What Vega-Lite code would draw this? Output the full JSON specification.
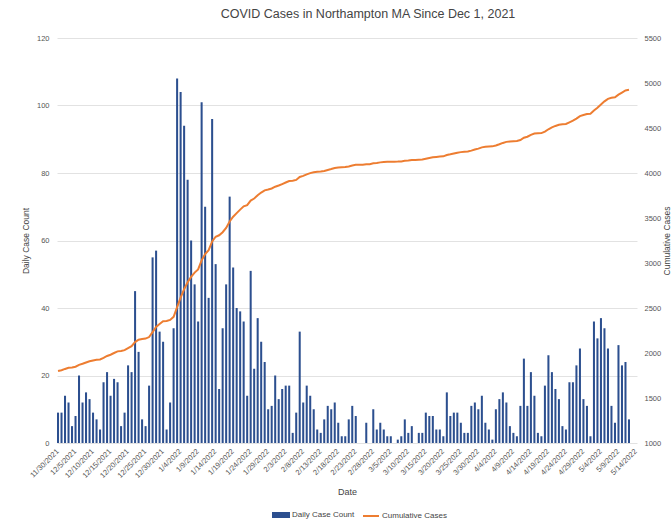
{
  "$schema": "https://vega.github.io/schema/vega-lite/v6.json",
  "width": 580,
  "height": 405,
  "autosize": {"type": "none"},
  "padding": {"left": 57, "top": 38, "right": 35, "bottom": 87},
  "background": "white",
  "title": {"text": "COVID Cases in Northampton MA Since Dec 1, 2021", "fontSize": 12.5, "font": "Liberation Sans", "fontWeight": "normal", "color": "#444444", "offset": 14, "dx": 21, "anchor": "middle"},
  "config": {
    "view": {"stroke": null},
    "font": "Liberation Sans",
    "axis": {"labelFont": "Liberation Sans", "titleFont": "Liberation Sans", "labelColor": "#555555", "titleColor": "#444444", "titleFontWeight": "normal", "domain": false, "ticks": false}
  },
  "data": {"values": [
    {"date": "11/30/2021", "daily": 9, "cum": 1800},
    {"date": "12/1/2021", "daily": 9, "cum": 1809},
    {"date": "12/2/2021", "daily": 14, "cum": 1823},
    {"date": "12/3/2021", "daily": 12, "cum": 1835},
    {"date": "12/4/2021", "daily": 5, "cum": 1840},
    {"date": "12/5/2021", "daily": 8, "cum": 1848},
    {"date": "12/6/2021", "daily": 20, "cum": 1868},
    {"date": "12/7/2021", "daily": 12, "cum": 1880},
    {"date": "12/8/2021", "daily": 15, "cum": 1895},
    {"date": "12/9/2021", "daily": 13, "cum": 1908},
    {"date": "12/10/2021", "daily": 9, "cum": 1917},
    {"date": "12/11/2021", "daily": 7, "cum": 1924},
    {"date": "12/12/2021", "daily": 4, "cum": 1928},
    {"date": "12/13/2021", "daily": 18, "cum": 1946},
    {"date": "12/14/2021", "daily": 21, "cum": 1967},
    {"date": "12/15/2021", "daily": 14, "cum": 1981},
    {"date": "12/16/2021", "daily": 19, "cum": 2000},
    {"date": "12/17/2021", "daily": 18, "cum": 2018},
    {"date": "12/18/2021", "daily": 5, "cum": 2023},
    {"date": "12/19/2021", "daily": 9, "cum": 2032},
    {"date": "12/20/2021", "daily": 23, "cum": 2055},
    {"date": "12/21/2021", "daily": 21, "cum": 2076},
    {"date": "12/22/2021", "daily": 45, "cum": 2121},
    {"date": "12/23/2021", "daily": 27, "cum": 2148},
    {"date": "12/24/2021", "daily": 7, "cum": 2155},
    {"date": "12/25/2021", "daily": 5, "cum": 2160},
    {"date": "12/26/2021", "daily": 17, "cum": 2177},
    {"date": "12/27/2021", "daily": 55, "cum": 2232},
    {"date": "12/28/2021", "daily": 57, "cum": 2289},
    {"date": "12/29/2021", "daily": 33, "cum": 2322},
    {"date": "12/30/2021", "daily": 30, "cum": 2352},
    {"date": "12/31/2021", "daily": 4, "cum": 2356},
    {"date": "1/1/2022", "daily": 12, "cum": 2368},
    {"date": "1/2/2022", "daily": 34, "cum": 2402},
    {"date": "1/3/2022", "daily": 108, "cum": 2510},
    {"date": "1/4/2022", "daily": 104, "cum": 2614},
    {"date": "1/5/2022", "daily": 94, "cum": 2708},
    {"date": "1/6/2022", "daily": 78, "cum": 2786},
    {"date": "1/7/2022", "daily": 60, "cum": 2846},
    {"date": "1/8/2022", "daily": 47, "cum": 2893},
    {"date": "1/9/2022", "daily": 36, "cum": 2929},
    {"date": "1/10/2022", "daily": 101, "cum": 3030},
    {"date": "1/11/2022", "daily": 70, "cum": 3100},
    {"date": "1/12/2022", "daily": 43, "cum": 3143},
    {"date": "1/13/2022", "daily": 96, "cum": 3239},
    {"date": "1/14/2022", "daily": 53, "cum": 3292},
    {"date": "1/15/2022", "daily": 16, "cum": 3308},
    {"date": "1/16/2022", "daily": 34, "cum": 3342},
    {"date": "1/17/2022", "daily": 47, "cum": 3389},
    {"date": "1/18/2022", "daily": 73, "cum": 3462},
    {"date": "1/19/2022", "daily": 52, "cum": 3514},
    {"date": "1/20/2022", "daily": 40, "cum": 3554},
    {"date": "1/21/2022", "daily": 39, "cum": 3593},
    {"date": "1/22/2022", "daily": 36, "cum": 3629},
    {"date": "1/23/2022", "daily": 14, "cum": 3643},
    {"date": "1/24/2022", "daily": 51, "cum": 3694},
    {"date": "1/25/2022", "daily": 22, "cum": 3716},
    {"date": "1/26/2022", "daily": 37, "cum": 3753},
    {"date": "1/27/2022", "daily": 30, "cum": 3783},
    {"date": "1/28/2022", "daily": 24, "cum": 3807},
    {"date": "1/29/2022", "daily": 10, "cum": 3817},
    {"date": "1/30/2022", "daily": 11, "cum": 3828},
    {"date": "1/31/2022", "daily": 20, "cum": 3848},
    {"date": "2/1/2022", "daily": 13, "cum": 3861},
    {"date": "2/2/2022", "daily": 16, "cum": 3877},
    {"date": "2/3/2022", "daily": 17, "cum": 3894},
    {"date": "2/4/2022", "daily": 17, "cum": 3911},
    {"date": "2/5/2022", "daily": 3, "cum": 3914},
    {"date": "2/6/2022", "daily": 9, "cum": 3923},
    {"date": "2/7/2022", "daily": 33, "cum": 3956},
    {"date": "2/8/2022", "daily": 12, "cum": 3968},
    {"date": "2/9/2022", "daily": 17, "cum": 3985},
    {"date": "2/10/2022", "daily": 14, "cum": 3999},
    {"date": "2/11/2022", "daily": 10, "cum": 4009},
    {"date": "2/12/2022", "daily": 4, "cum": 4013},
    {"date": "2/13/2022", "daily": 3, "cum": 4016},
    {"date": "2/14/2022", "daily": 7, "cum": 4023},
    {"date": "2/15/2022", "daily": 11, "cum": 4034},
    {"date": "2/16/2022", "daily": 10, "cum": 4044},
    {"date": "2/17/2022", "daily": 12, "cum": 4056},
    {"date": "2/18/2022", "daily": 6, "cum": 4062},
    {"date": "2/19/2022", "daily": 2, "cum": 4064},
    {"date": "2/20/2022", "daily": 2, "cum": 4066},
    {"date": "2/21/2022", "daily": 7, "cum": 4073},
    {"date": "2/22/2022", "daily": 11, "cum": 4084},
    {"date": "2/23/2022", "daily": 8, "cum": 4092},
    {"date": "2/24/2022", "daily": 0, "cum": 4092},
    {"date": "2/25/2022", "daily": 0, "cum": 4092},
    {"date": "2/26/2022", "daily": 6, "cum": 4098},
    {"date": "2/27/2022", "daily": 0, "cum": 4098},
    {"date": "2/28/2022", "daily": 10, "cum": 4108},
    {"date": "3/1/2022", "daily": 4, "cum": 4112},
    {"date": "3/2/2022", "daily": 6, "cum": 4118},
    {"date": "3/3/2022", "daily": 4, "cum": 4122},
    {"date": "3/4/2022", "daily": 2, "cum": 4124},
    {"date": "3/5/2022", "daily": 2, "cum": 4126},
    {"date": "3/6/2022", "daily": 0, "cum": 4126},
    {"date": "3/7/2022", "daily": 1, "cum": 4127},
    {"date": "3/8/2022", "daily": 2, "cum": 4129},
    {"date": "3/9/2022", "daily": 7, "cum": 4136},
    {"date": "3/10/2022", "daily": 3, "cum": 4139},
    {"date": "3/11/2022", "daily": 5, "cum": 4144},
    {"date": "3/12/2022", "daily": 0, "cum": 4144},
    {"date": "3/13/2022", "daily": 3, "cum": 4147},
    {"date": "3/14/2022", "daily": 3, "cum": 4150},
    {"date": "3/15/2022", "daily": 9, "cum": 4159},
    {"date": "3/16/2022", "daily": 8, "cum": 4167},
    {"date": "3/17/2022", "daily": 8, "cum": 4175},
    {"date": "3/18/2022", "daily": 4, "cum": 4179},
    {"date": "3/19/2022", "daily": 4, "cum": 4183},
    {"date": "3/20/2022", "daily": 2, "cum": 4185},
    {"date": "3/21/2022", "daily": 15, "cum": 4200},
    {"date": "3/22/2022", "daily": 8, "cum": 4208},
    {"date": "3/23/2022", "daily": 9, "cum": 4217},
    {"date": "3/24/2022", "daily": 9, "cum": 4226},
    {"date": "3/25/2022", "daily": 6, "cum": 4232},
    {"date": "3/26/2022", "daily": 3, "cum": 4235},
    {"date": "3/27/2022", "daily": 3, "cum": 4238},
    {"date": "3/28/2022", "daily": 11, "cum": 4249},
    {"date": "3/29/2022", "daily": 12, "cum": 4261},
    {"date": "3/30/2022", "daily": 10, "cum": 4271},
    {"date": "3/31/2022", "daily": 14, "cum": 4285},
    {"date": "4/1/2022", "daily": 6, "cum": 4291},
    {"date": "4/2/2022", "daily": 4, "cum": 4295},
    {"date": "4/3/2022", "daily": 1, "cum": 4296},
    {"date": "4/4/2022", "daily": 10, "cum": 4306},
    {"date": "4/5/2022", "daily": 13, "cum": 4319},
    {"date": "4/6/2022", "daily": 15, "cum": 4334},
    {"date": "4/7/2022", "daily": 12, "cum": 4346},
    {"date": "4/8/2022", "daily": 5, "cum": 4351},
    {"date": "4/9/2022", "daily": 3, "cum": 4354},
    {"date": "4/10/2022", "daily": 2, "cum": 4356},
    {"date": "4/11/2022", "daily": 11, "cum": 4367},
    {"date": "4/12/2022", "daily": 25, "cum": 4392},
    {"date": "4/13/2022", "daily": 11, "cum": 4403},
    {"date": "4/14/2022", "daily": 21, "cum": 4424},
    {"date": "4/15/2022", "daily": 14, "cum": 4438},
    {"date": "4/16/2022", "daily": 3, "cum": 4441},
    {"date": "4/17/2022", "daily": 2, "cum": 4443},
    {"date": "4/18/2022", "daily": 17, "cum": 4460},
    {"date": "4/19/2022", "daily": 26, "cum": 4486},
    {"date": "4/20/2022", "daily": 21, "cum": 4507},
    {"date": "4/21/2022", "daily": 16, "cum": 4523},
    {"date": "4/22/2022", "daily": 13, "cum": 4536},
    {"date": "4/23/2022", "daily": 5, "cum": 4541},
    {"date": "4/24/2022", "daily": 4, "cum": 4545},
    {"date": "4/25/2022", "daily": 18, "cum": 4563},
    {"date": "4/26/2022", "daily": 18, "cum": 4581},
    {"date": "4/27/2022", "daily": 23, "cum": 4604},
    {"date": "4/28/2022", "daily": 28, "cum": 4632},
    {"date": "4/29/2022", "daily": 13, "cum": 4645},
    {"date": "4/30/2022", "daily": 11, "cum": 4656},
    {"date": "5/1/2022", "daily": 2, "cum": 4658},
    {"date": "5/2/2022", "daily": 36, "cum": 4694},
    {"date": "5/3/2022", "daily": 31, "cum": 4725},
    {"date": "5/4/2022", "daily": 37, "cum": 4762},
    {"date": "5/5/2022", "daily": 34, "cum": 4796},
    {"date": "5/6/2022", "daily": 28, "cum": 4824},
    {"date": "5/7/2022", "daily": 11, "cum": 4835},
    {"date": "5/8/2022", "daily": 6, "cum": 4841},
    {"date": "5/9/2022", "daily": 29, "cum": 4870},
    {"date": "5/10/2022", "daily": 23, "cum": 4893},
    {"date": "5/11/2022", "daily": 24, "cum": 4917},
    {"date": "5/12/2022", "daily": 7, "cum": 4924},
    {"date": "5/13/2022", "daily": 0, "cum": null},
    {"date": "5/14/2022", "daily": 0, "cum": null}
  ]},
  "layer": [
    {
      "mark": {"type": "bar", "color": "#2c4f8f"},
      "encoding": {
        "x": {
          "field": "date", "type": "ordinal", "sort": null,
          "scale": {"paddingInner": 0.42, "paddingOuter": 0},
          "axis": {
            "values": ["11/30/2021","12/5/2021","12/10/2021","12/15/2021","12/20/2021","12/25/2021","12/30/2021","1/4/2022","1/9/2022","1/14/2022","1/19/2022","1/24/2022","1/29/2022","2/3/2022","2/8/2022","2/13/2022","2/18/2022","2/23/2022","2/28/2022","3/5/2022","3/10/2022","3/15/2022","3/20/2022","3/25/2022","3/30/2022","4/4/2022","4/9/2022","4/14/2022","4/19/2022","4/24/2022","4/29/2022","5/4/2022","5/9/2022","5/14/2022"],
            "labelAngle": -45, "labelAlign": "right", "labelBaseline": "middle",
            "labelFontSize": 7.5, "labelPadding": 7, "title": "Date", "titleFontSize": 9, "titlePadding": 8, "grid": false
          }
        },
        "y": {
          "field": "daily", "type": "quantitative",
          "scale": {"domain": [0, 120], "nice": false},
          "axis": {"values": [0, 20, 40, 60, 80, 100, 120], "grid": true, "gridColor": "#e2e2e2", "labelFontSize": 7.5, "labelPadding": 8, "title": "Daily Case Count", "titleFontSize": 8.5, "titlePadding": 6}
        },
        "color": {
          "datum": "Daily Case Count",
          "scale": {"domain": ["Daily Case Count", "Cumulative Cases"], "range": ["#2c4f8f", "#ed7d31"]},
          "legend": {
            "orient": "none", "legendX": 215, "legendY": 468, "direction": "horizontal", "title": null,
            "labelFontSize": 8, "labelColor": "#444444", "labelFont": "Liberation Sans", "symbolSize": 256, "labelOffset": 2, "columnPadding": 4, "padding": 0,
            "encode": {"symbols": {"update": {
              "shape": {"signal": "datum.value === 'Daily Case Count' ? 'M-1,-0.25H1V0.25H-1Z' : 'stroke'"},
              "fill": {"signal": "datum.value === 'Daily Case Count' ? '#2c4f8f' : 'transparent'"},
              "stroke": {"signal": "datum.value === 'Daily Case Count' ? 'transparent' : '#ed7d31'"},
              "strokeWidth": {"value": 2},
              "opacity": {"value": 1}
            }}}
          }
        }
      }
    },
    {
      "mark": {"type": "line", "strokeWidth": 2, "color": "#ed7d31"},
      "encoding": {
        "x": {"field": "date", "type": "ordinal", "sort": null, "bandPosition": 0.5},
        "y": {
          "field": "cum", "type": "quantitative",
          "scale": {"domain": [1000, 5500], "nice": false},
          "axis": {"orient": "right", "values": [1000, 1500, 2000, 2500, 3000, 3500, 4000, 4500, 5000, 5500], "format": "d", "grid": false, "labelFontSize": 7.5, "labelPadding": 7, "title": "Cumulative Cases", "titleFontSize": 8.5, "titlePadding": 2, "titleAngle": 270, "titleBaseline": "top"}
        },
        "color": {"datum": "Cumulative Cases"}
      }
    }
  ],
  "resolve": {"scale": {"y": "independent"}}
}
